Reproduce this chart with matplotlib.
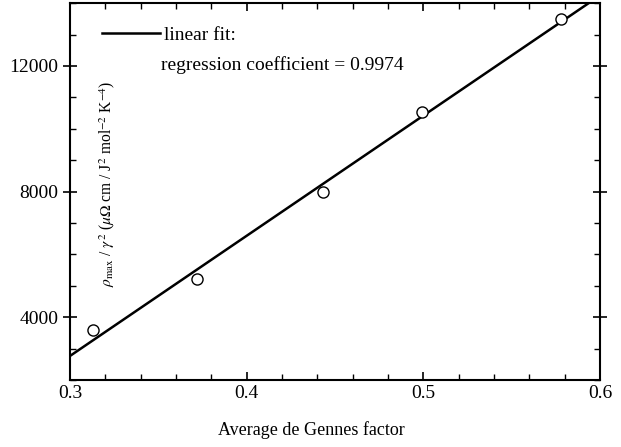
import numpy as np
import matplotlib
matplotlib.use('Agg')
import matplotlib.pyplot as plt
from matplotlib.ticker import MultipleLocator

plt.rcParams['font.family'] = ['Liberation Serif', 'DejaVu Serif']
plt.rcParams['mathtext.fontset'] = 'stix'

# data
gennes = [0.313, 0.372, 0.443, 0.499, 0.578]
rho_gamma = [3590, 5210, 7970, 10540, 13490]
r_coeff = 0.9974

x_ticks = [0.3, 0.4, 0.5, 0.6]
y_ticks = [4000, 8000, 12000]

fig = plt.figure(figsize=(6.21, 4.47), dpi=100)
ax = fig.add_axes([0.1127, 0.150, 0.8535, 0.843])

# linear fit through the points
slope, icpt = np.polyfit(gennes, rho_gamma, 1)
xf = np.array([0.3, 0.6])
ax.plot(xf, slope * xf + icpt, color='black', linewidth=1.8, label='linear fit:')

ax.plot(gennes, rho_gamma, linestyle='none', marker='o', markersize=8,
        markerfacecolor='white', markeredgecolor='black', markeredgewidth=1.0)

ax.set_xlim(0.3, 0.6)
ax.set_ylim(2000, 14000)
ax.set_xticks(x_ticks)
ax.set_xticklabels(['0.3', '0.4', '0.5', '0.6'])
ax.set_yticks(y_ticks)
ax.xaxis.set_minor_locator(MultipleLocator(0.02))
ax.yaxis.set_minor_locator(MultipleLocator(1000))
ax.tick_params(which='both', direction='in', top=True, right=True, labelsize=14)
ax.tick_params(which='major', length=6, width=1.2)
ax.tick_params(which='minor', length=4, width=1.0)
ax.tick_params(axis='y', which='major', direction='inout', length=10)
for s in ax.spines.values():
    s.set_linewidth(1.5)

ax.set_xlabel('Average de Gennes factor', fontsize=13)
ax.xaxis.set_label_coords(0.455, -0.108)

ax.text(0.07, 0.52,
        r'$\rho_{\rm max}$ / $\gamma^2$ ($\mu\Omega$ cm / J$^2$ mol$^{-2}$ K$^{-4}$)',
        transform=ax.transAxes, rotation=90, ha='center', va='center', fontsize=11.2)

leg = ax.legend(loc='upper left', frameon=False, fontsize=14, handlelength=3.0,
                handletextpad=0.2, bbox_to_anchor=(0.045, 0.96), borderaxespad=0)
ax.text(0.172, 0.835, 'regression coefficient = %.4f' % r_coeff,
        transform=ax.transAxes, fontsize=14, ha='left', va='center')

fig.savefig('out.png', dpi=100)
